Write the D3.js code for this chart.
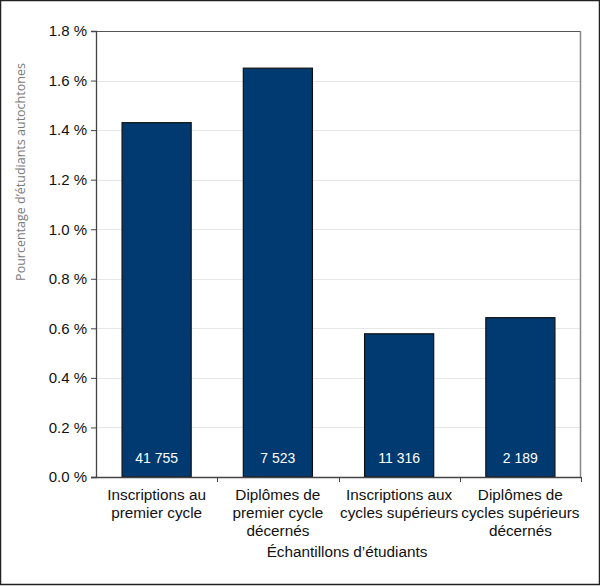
<!DOCTYPE html>
<html>
<head>
<meta charset="utf-8">
<script src="https://cdn.jsdelivr.net/npm/d3@7"></script>
<style>
  body { margin: 0; background: #fff; }
  text { font-family: "Liberation Sans", Arial, sans-serif; }
</style>
</head>
<body>
<script>
// chart data
var categories = [
    ["Inscriptions au", "premier cycle"],
    ["Diplômes de", "premier cycle", "décernés"],
    ["Inscriptions aux", "cycles supérieurs"],
    ["Diplômes de", "cycles supérieurs", "décernés"]
];
var percentValues = [1.43, 1.65, 0.578, 0.643];
var sampleSizes = ["41 755", "7 523", "11 316", "2 189"];
var yTicks = [0, 0.2, 0.4, 0.6, 0.8, 1.0, 1.2, 1.4, 1.6, 1.8];

var w = 600, h = 586;
var margin = {top: 31, right: 19, bottom: 109, left: 96};
var iw = w - margin.left - margin.right,
    ih = h - margin.top - margin.bottom;

var svg = d3.select("body").append("svg")
    .attr("width", w)
    .attr("height", h);

// outer frame
svg.append("rect")
    .attr("x", 0.5).attr("y", 0.5)
    .attr("width", w - 1).attr("height", h - 2)
    .style("fill", "#fff")
    .style("stroke", "#222")
    .style("stroke-width", 1.5);

var g = svg.append("g")
    .attr("transform", "translate(" + margin.left + "," + margin.top + ")");

var x = d3.scaleBand()
    .domain(d3.range(categories.length))
    .range([0, iw])
    .paddingInner(0.43)
    .paddingOuter(0.215);

var y = d3.scaleLinear()
    .domain([0, 1.8])
    .range([ih, 0]);

// gridlines
g.selectAll(".grid")
    .data(yTicks.slice(1))
    .enter()
    .append("line")
    .attr("class", "grid")
    .attr("x1", 0).attr("x2", iw)
    .attr("y1", function(d){ return Math.round(y(d)) + 0.5; })
    .attr("y2", function(d){ return Math.round(y(d)) + 0.5; })
    .style("stroke", "#e6e6e6")
    .style("stroke-width", 1);

// plot frame top and right
g.append("line")
    .attr("x1", 0).attr("x2", iw).attr("y1", 0.5).attr("y2", 0.5)
    .style("stroke", "#555");
g.append("line")
    .attr("x1", iw - 0.5).attr("x2", iw - 0.5).attr("y1", 0).attr("y2", ih)
    .style("stroke", "#888").style("stroke-width", 1.5);

// bars
g.selectAll(".bar")
    .data(percentValues)
    .enter()
    .append("rect")
    .attr("class", "bar")
    .attr("x", function(d, i){ return x(i); })
    .attr("y", function(d){ return y(d); })
    .attr("width", x.bandwidth())
    .attr("height", function(d){ return ih - y(d); })
    .style("fill", "#003a70")
    .style("stroke", "#111")
    .style("stroke-width", 1.2);

// sample sizes inside bars
g.selectAll(".nlabel")
    .data(sampleSizes)
    .enter()
    .append("text")
    .attr("class", "nlabel")
    .attr("x", function(d, i){ return x(i) + x.bandwidth() / 2; })
    .attr("y", ih - 14)
    .attr("text-anchor", "middle")
    .style("fill", "#fff")
    .style("font-size", "14px")
    .text(function(d){ return d; });

// y axis
var yAxis = d3.axisLeft(y)
    .tickValues(yTicks)
    .tickSize(5)
    .tickFormat(function(d){ return d3.format(".1f")(d) + " %"; });
var ya = g.append("g").attr("class", "axis").call(yAxis);
ya.select(".domain").style("stroke", "#444").style("stroke-width", 1.3);
ya.selectAll(".tick line").style("stroke", "#444");
ya.selectAll(".tick text")
    .attr("x", -9)
    .style("font-size", "15px")
    .style("fill", "#111")
    .style("font-family", "'Liberation Sans', Arial, sans-serif");

// x axis baseline with boundary ticks
var xb = d3.scaleLinear().domain([0, categories.length]).range([0, iw]);
g.append("line")
    .attr("x1", -5).attr("x2", iw).attr("y1", ih + 0.5).attr("y2", ih + 0.5)
    .style("stroke", "#444").style("stroke-width", 1.3);
g.selectAll(".xtick")
    .data(d3.range(1, categories.length + 1))
    .enter()
    .append("line")
    .attr("class", "xtick")
    .attr("x1", function(d){ return Math.round(xb(d)) + 0.5; })
    .attr("x2", function(d){ return Math.round(xb(d)) + 0.5; })
    .attr("y1", ih).attr("y2", ih + 5)
    .style("stroke", "#444");

// category labels
var catLabels = g.selectAll(".cat")
    .data(categories)
    .enter()
    .append("text")
    .attr("class", "cat")
    .attr("text-anchor", "middle")
    .attr("y", ih + 23)
    .style("font-size", "15.3px")
    .style("fill", "#111");
catLabels.selectAll("tspan")
    .data(function(d, i){ return d.map(function(s){ return {s: s, i: i}; }); })
    .enter()
    .append("tspan")
    .attr("x", function(d){ return x(d.i) + x.bandwidth() / 2; })
    .attr("dy", function(d, j){ return j === 0 ? 0 : 18; })
    .text(function(d){ return d.s; });

// axis titles
svg.append("text")
    .attr("x", 347)
    .attr("y", 557)
    .attr("text-anchor", "middle")
    .style("font-size", "15.3px")
    .style("fill", "#111")
    .text("Échantillons d’étudiants");

svg.append("text")
    .attr("transform", "translate(25,172) rotate(-90)")
    .attr("text-anchor", "middle")
    .style("font-family", "'Open Sans', 'Noto Sans', sans-serif")
    .style("font-size", "12.5px")
    .style("fill", "#7a7a7a")
    .text("Pourcentage d’étudiants autochtones");
</script>
</body>
</html>
